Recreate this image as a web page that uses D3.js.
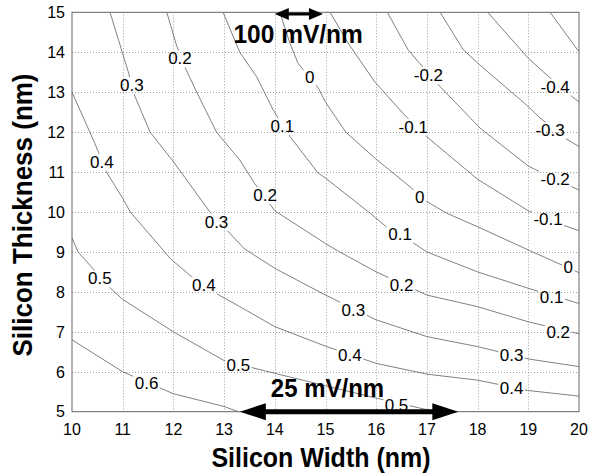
<!DOCTYPE html>
<html>
<head>
<meta charset="utf-8">
<script src="https://cdn.jsdelivr.net/npm/d3@7"></script>
<style>
  body { margin: 0; background: #fff; }
  text { font-family: "Liberation Sans", Arial, Helvetica, sans-serif; fill: #000; }
</style>
</head>
<body>
<svg id="chart" width="595" height="474"></svg>
<script>
// contour levels and their polylines (x = width nm, y = thickness nm)
const levels = [0.6, 0.5, 0.4, 0.3, 0.2, 0.1, 0, -0.1, -0.2, -0.3, -0.4, -0.5]

const contourLines = [
  [[10, 6.8], [11, 6.0], [12, 5.45], [13, 5.13], [13.28, 5]],
  [[10, 9.35], [10.12, 9.0], [10.75, 8.1], [11, 7.81], [12, 7.0], [13, 6.28], [14, 5.96], [15, 5.65], [16, 5.34], [17, 5.05], [17.15, 5]],
  [[10, 13], [10.45, 11.72], [10.68, 11.0], [11, 10.34], [11.15, 10.0], [11.95, 8.82], [12.36, 8.38], [12.79, 8.0], [13, 7.85], [13.31, 7.63], [14, 7.13], [15, 6.64], [16, 6.21], [17, 5.94], [18, 5.79], [19, 5.53], [20, 5.39]],
  [[10.75, 15], [11.11, 13.51], [11.24, 12.9], [11.54, 12.0], [12, 11.26], [12.72, 10.0], [13, 9.62], [13.4, 9.08], [14, 8.59], [15, 7.92], [16, 7.3], [17, 6.88], [18, 6.63], [19, 6.32], [20, 6.13]],
  [[11.87, 15], [12.06, 14.18], [12.23, 13.62], [12.46, 13.0], [12.85, 12.0], [13.31, 11.3], [13.6, 10.72], [14, 10.03], [15, 9.21], [15.28, 9.0], [16, 8.5], [17, 7.92], [18, 7.63], [19, 7.25], [20, 6.95]],
  [[12.98, 15], [13.31, 14.0], [13.64, 13.39], [13.97, 12.55], [14.3, 11.89], [14.85, 10.98], [15, 10.85], [15.85, 10.0], [16.2, 9.63], [16.8, 9.17], [17, 9.0], [18, 8.5], [19, 8.09], [20, 7.71]],
  [[14.1, 15], [14.3, 14.22], [14.46, 13.72], [14.86, 13.1], [15, 12.75], [15.4, 12.0], [16, 11.32], [16.67, 10.63], [17, 10.26], [17.39, 9.97], [18, 9.63], [19, 9.05], [20, 8.48]],
  [[15.09, 15], [15.45, 14.22], [15.97, 13.26], [16.53, 12.47], [17.03, 11.85], [18, 10.82], [19, 10.03], [19.69, 9.67], [20, 9.53]],
  [[16.22, 15], [16.63, 14.06], [16.83, 13.76], [17.26, 13.14], [18.05, 12.1], [19, 11.15], [19.56, 10.8], [20, 10.55]],
  [[17.26, 15], [17.72, 14.06], [18.01, 13.72], [19, 12.64], [19.2, 12.39], [19.72, 11.85], [20, 11.64]],
  [[18.2, 15], [19, 13.85], [19.33, 13.47], [19.86, 12.89], [20, 12.76]],
  [[19.43, 15], [20, 14.01]],
]

// inline contour labels: [x, y, text]
const contourLabels = [
  [12.13, 13.85, '0.2'], [11.18, 13.18, '0.3'], [10.59, 11.26, '0.4'], [14.15, 12.16, '0.1'],
  [13.81, 10.43, '0.2'], [12.85, 9.76, '0.3'], [14.69, 13.39, '0'], [17.03, 13.43, '-0.2'],
  [19.53, 13.14, '-0.4'], [16.73, 12.14, '-0.1'], [19.43, 12.05, '-0.3'], [19.53, 10.84, '-0.2'],
  [16.86, 10.38, '0'], [19.39, 9.84, '-0.1'], [16.47, 9.45, '0.1'], [19.79, 8.63, '0'],
  [16.5, 8.17, '0.2'], [19.46, 7.88, '0.1'], [15.55, 7.55, '0.3'], [19.59, 7.0, '0.2'],
  [15.48, 6.42, '0.4'], [18.67, 6.42, '0.3'], [18.67, 5.59, '0.4'], [16.4, 5.17, '0.5'],
  [10.55, 8.34, '0.5'], [12.6, 8.17, '0.4'], [13.28, 6.17, '0.5'], [11.47, 5.71, '0.6'],
]

const xTicks = [10, 11, 12, 13, 14, 15, 16, 17, 18, 19, 20]
const yTicks = [5, 6, 7, 8, 9, 10, 11, 12, 13, 14, 15]

// slope annotations: [x start, x end, y, label, label x, label baseline y]
const arrows = [
  [14.0, 14.95, 14.96, '100 mV/nm', 14.46, 14.24],
  [13.31, 17.62, 5.0, '25 mV/nm', 15.04, 5.38],
]

const svg = d3.select('#chart')
const M = { left: 72, right: 579, top: 12.3, bottom: 411.7 }

const x = d3.scaleLinear().domain([10, 20]).range([M.left, M.right])
const y = d3.scaleLinear().domain([5, 15]).range([M.bottom, M.top])

const defs = svg.append('defs')
const gridG = svg.append('g')
const contourG = svg.append('g')
const labelG = svg.append('g')
const frameG = svg.append('g')

// grid
gridG.attr('stroke', '#a0a0a0').attr('stroke-width', 1).attr('stroke-dasharray', '1,2')
gridG.selectAll('line.gx').data(xTicks.slice(1, -1)).join('line').attr('class', 'gx')
  .attr('x1', (d) => Math.round(x(d)) + 0.5).attr('x2', (d) => Math.round(x(d)) + 0.5)
  .attr('y1', M.top).attr('y2', M.bottom)
gridG.selectAll('line.gy').data(yTicks.slice(1, -1)).join('line').attr('class', 'gy')
  .attr('y1', (d) => Math.round(y(d)) + 0.5).attr('y2', (d) => Math.round(y(d)) + 0.5)
  .attr('x1', M.left).attr('x2', M.right)

// contour labels; their boxes cut gaps in the lines through a mask
labelG.attr('font-size', '17px').attr('text-anchor', 'middle')
const labelNodes = labelG.selectAll('text').data(contourLabels).join('text')
  .attr('x', (d) => x(d[0])).attr('y', (d) => y(d[1])).attr('dy', '0.36em')
  .text((d) => d[2])

defs.append('clipPath').attr('id', 'plotClip').append('rect')
  .attr('x', M.left).attr('y', M.top).attr('width', M.right - M.left).attr('height', M.bottom - M.top)
const mask = defs.append('mask').attr('id', 'labelMask').attr('maskUnits', 'userSpaceOnUse')
  .attr('x', 0).attr('y', 0).attr('width', 595).attr('height', 474)
mask.append('rect').attr('x', 0).attr('y', 0).attr('width', 595).attr('height', 474).attr('fill', '#fff')
labelNodes.each(function () {
  const b = this.getBBox()
  mask.append('rect').attr('x', b.x - 1.5).attr('y', b.y + 1).attr('width', b.width + 3).attr('height', b.height - 2).attr('fill', '#000')
})

const line = d3.line().x((d) => x(d[0])).y((d) => y(d[1]))
contourG.attr('clip-path', 'url(#plotClip)')
  .append('g').attr('mask', 'url(#labelMask)')
  .selectAll('path').data(contourLines).join('path')
  .attr('d', line).attr('fill', 'none').attr('stroke', '#555').attr('stroke-width', 0.75)

// axes box
frameG.append('rect').attr('x', M.left).attr('y', M.top).attr('width', M.right - M.left).attr('height', M.bottom - M.top)
  .attr('fill', 'none').attr('stroke', '#666').attr('stroke-width', 1)

// tick labels
frameG.append('g').attr('font-size', '16px').attr('text-anchor', 'middle')
  .selectAll('text').data(xTicks).join('text')
  .attr('x', (d) => x(d)).attr('y', M.bottom + 23.5).text((d) => d)
frameG.append('g').attr('font-size', '16px').attr('text-anchor', 'end')
  .selectAll('text').data(yTicks).join('text')
  .attr('x', M.left - 7).attr('y', (d) => y(d)).attr('dy', '0.36em').text((d) => d)

// axis titles (the source figure is slightly stretched vertically)
frameG.append('text').attr('transform', 'translate(321,467) scale(1,1.12)').attr('text-anchor', 'middle')
  .attr('font-size', '25px').attr('font-weight', 'bold').text('Silicon Width (nm)')
frameG.append('text').attr('transform', 'translate(32,215) rotate(-90) scale(1,1.08)').attr('text-anchor', 'middle')
  .attr('font-size', '26px').attr('font-weight', 'bold').text('Silicon Thickness (nm)')

// double arrows with slope labels
const arrowPath = (x0, x1, yc, headLen, headHalf, shaft) => {
  const s = shaft / 2
  return `M${x0},${yc}L${x0 + headLen},${yc - headHalf}L${x0 + headLen},${yc - s}L${x1 - headLen},${yc - s}` +
    `L${x1 - headLen},${yc - headHalf}L${x1},${yc}L${x1 - headLen},${yc + headHalf}L${x1 - headLen},${yc + s}` +
    `L${x0 + headLen},${yc + s}L${x0 + headLen},${yc + headHalf}Z`
}
const arrowStyle = [[14, 6, 3, 24.5], [26, 8.5, 5, 24]]
arrows.forEach((a, i) => {
  const [hl, hh, sh, fs] = arrowStyle[i]
  frameG.append('path').attr('d', arrowPath(x(a[0]), x(a[1]), y(a[2]), hl, hh, sh)).attr('fill', '#000')
  frameG.append('text').attr('transform', `translate(${x(a[4])},${y(a[5])}) scale(1,1.05)`).attr('text-anchor', 'middle')
    .attr('font-size', fs + 'px').attr('font-weight', 'bold').text(a[3])
})
</script>
</body>
</html>
